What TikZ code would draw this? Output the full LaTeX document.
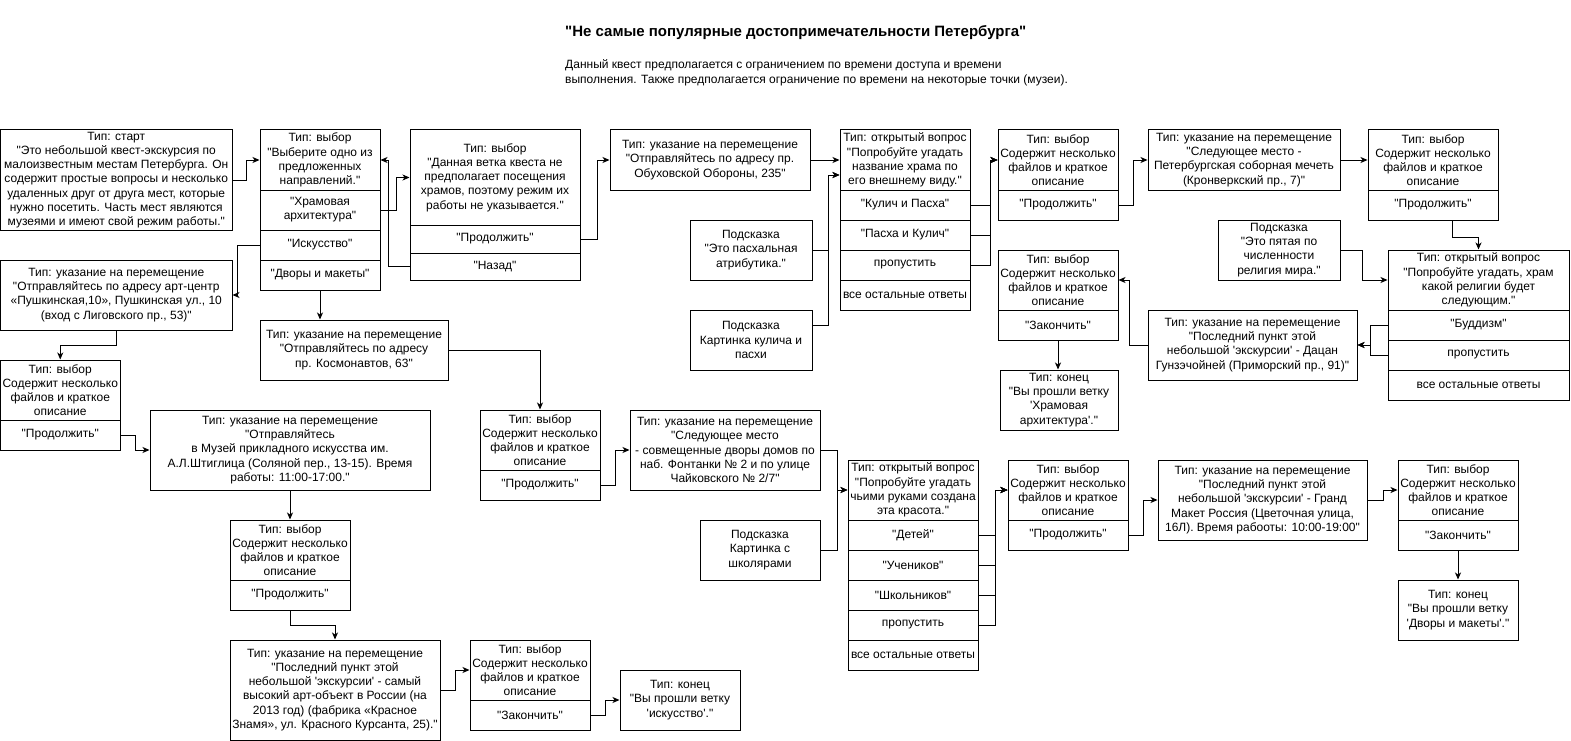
\documentclass[tikz,border=0pt]{standalone}
\usepackage{fontspec}
\setmainfont{Liberation Sans}[Ligatures=TeXOff]
\usetikzlibrary{arrows.meta,calc}
\newcommand{\apos}{\textquotesingle}
\tikzset{
 bx/.style={draw, line width=1pt, inner sep=0pt, align=center, font=\fontsize{12}{14.2}\selectfont},
 arr/.style={line width=1pt, -{Stealth[length=7pt,width=6pt,inset=2pt]}},
}
\newcommand{\mybox}[6]{\node[bx, minimum width={#4-#2}, minimum height={#5-#3}] (#1) at ({(#2+#4)/2},{(#3+#5)/2}) {#6};}
\newcommand{\hdr}{Тип: выбор\\Содержит несколько\\файлов и краткое\\описание}
\begin{document}
\begin{tikzpicture}[x=1pt,y=-1pt]
\useasboundingbox (0,0) rectangle (1571,741);
\node[anchor=west, inner sep=0pt, font=\fontsize{15}{18}\selectfont\bfseries] (title) at (565,33) {"Не самые популярные достопримечательности Петербурга"};
\node[anchor=north west, align=left, inner sep=0pt, font=\fontsize{12}{15}\selectfont] (desc) at (565,59) {Данный квест предполагается с ограничением по времени доступа и времени\\выполнения. Также предполагается ограничение по времени на некоторые точки (музеи).};

\mybox{start}{0.5}{130}{232}{230}{Тип: старт\\"Это небольшой квест-экскурсия по\\малоизвестным местам Петербурга. Он\\содержит простые вопросы и несколько\\удаленных друг от друга мест, которые\\нужно посетить. Часть мест являются\\музеями и имеют свой режим работы."}

\mybox{c1h}{260}{130}{380}{190}{Тип: выбор\\"Выберите одно из\\предложенных\\направлений."}
\mybox{c1a}{260}{190}{380}{230}{"Храмовая\\архитектура"}
\mybox{c1b}{260}{230}{380}{260}{"Искусство"}
\mybox{c1c}{260}{260}{380}{290}{"Дворы и макеты"}

\mybox{tH}{410}{130}{580}{225}{Тип: выбор\\"Данная ветка квеста не\\предполагает посещения\\храмов, поэтому режим их\\работы не указывается."}
\mybox{tA}{410}{225}{580}{253}{"Продолжить"}
\mybox{tB}{410}{253}{580}{280}{"Назад"}

\mybox{m1}{610}{130}{810}{190}{Тип: указание на перемещение\\"Отправляйтесь по адресу пр.\\Обуховской Обороны, 235"}
\mybox{h1}{690}{220}{812}{280}{Подсказка\\"Это пасхальная\\атрибутика."}
\mybox{h2}{690}{310}{812}{370}{Подсказка\\Картинка кулича и\\пасхи}

\mybox{q1h}{840}{130}{970}{190}{Тип: открытый вопрос\\"Попробуйте угадать\\название храма по\\его внешнему виду."}
\mybox{q1a}{840}{190}{970}{220}{"Кулич и Пасха"}
\mybox{q1b}{840}{220}{970}{250}{"Пасха и Кулич"}
\mybox{q1c}{840}{250}{970}{280}{пропустить}
\mybox{q1d}{840}{280}{970}{310}{все остальные ответы}

\mybox{c2h}{998}{130}{1118}{190}{\hdr}
\mybox{c2a}{998}{190}{1118}{220}{"Продолжить"}

\mybox{m2}{1148}{130}{1340}{190}{Тип: указание на перемещение\\"Следующее место -\\Петербургская соборная мечеть\\(Кронверкский пр., 7)"}

\mybox{c3h}{1368}{130}{1498}{190}{\hdr}
\mybox{c3a}{1368}{190}{1498}{220}{"Продолжить"}

\mybox{h3}{1218}{220}{1340}{280}{Подсказка\\"Это пятая по\\численности\\религия мира."}

\mybox{q2h}{1388}{250}{1569}{310}{Тип: открытый вопрос\\"Попробуйте угадать, храм\\какой религии будет\\следующим."}
\mybox{q2a}{1388}{310}{1569}{340}{"Буддизм"}
\mybox{q2b}{1388}{340}{1569}{370}{пропустить}
\mybox{q2c}{1388}{370}{1569}{400}{все остальные ответы}

\mybox{m3}{1148}{310}{1357}{380}{Тип: указание на перемещение\\"Последний пункт этой\\небольшой \apos экскурсии\apos{} - Дацан\\Гунзэчойней (Приморский пр., 91)"}

\mybox{c4h}{998}{250}{1118}{310}{\hdr}
\mybox{c4a}{998}{310}{1118}{340}{"Закончить"}
\mybox{e1}{1000}{370}{1118}{430}{Тип: конец\\"Вы прошли ветку\\\apos Храмовая\\архитектура\apos."}

\mybox{push}{0.5}{260}{232}{330}{Тип: указание на перемещение\\"Отправляйтесь по адресу арт-центр\\«Пушкинская,10», Пушкинская ул., 10\\(вход с Лиговского пр., 53)"}
\mybox{c5h}{0.5}{360}{120}{420}{\hdr}
\mybox{c5a}{0.5}{420}{120}{450}{"Продолжить"}

\mybox{kos}{260}{320}{448}{380}{Тип: указание на перемещение\\"Отправляйтесь по адресу\\пр. Космонавтов, 63"}

\mybox{sti}{150}{410}{430}{490}{Тип: указание на перемещение\\"Отправляйтесь\\в Музей прикладного искусства им.\\А.Л.Штиглица (Соляной пер., 13-15). Время\\работы: 11:00-17:00."}

\mybox{c6h}{230}{520}{350}{580}{\hdr}
\mybox{c6a}{230}{580}{350}{610}{"Продолжить"}

\mybox{la}{230}{640}{440}{740}{Тип: указание на перемещение\\"Последний пункт этой\\небольшой \apos экскурсии\apos{} - самый\\высокий арт-объект в России (на\\2013 год) (фабрика «Красное\\Знамя», ул. Красного Курсанта, 25)."}

\mybox{c7h}{470}{640}{590}{700}{\hdr}
\mybox{c7a}{470}{700}{590}{730}{"Закончить"}
\mybox{e2}{620}{670}{740}{730}{Тип: конец\\"Вы прошли ветку\\\apos искусство\apos."}

\mybox{c8h}{480}{410}{600}{470}{\hdr}
\mybox{c8a}{480}{470}{600}{500}{"Продолжить"}

\mybox{fon}{630}{410}{820}{490}{Тип: указание на перемещение\\"Следующее место\\- совмещенные дворы домов по\\наб. Фонтанки № 2 и по улице\\Чайковского № 2/7"}
\mybox{h4}{700}{520}{820}{580}{Подсказка\\Картинка с\\школярами}

\mybox{q3h}{848}{460}{978}{520}{Тип: открытый вопрос\\"Попробуйте угадать\\чьими руками создана\\эта красота."}
\mybox{q3a}{848}{520}{978}{550}{"Детей"}
\mybox{q3b}{848}{550}{978}{580}{"Учеников"}
\mybox{q3c}{848}{580}{978}{610}{"Школьников"}
\mybox{q3d}{848}{610}{978}{640}{пропустить}
\mybox{q3e}{848}{640}{978}{670}{все остальные ответы}

\mybox{c9h}{1008}{460}{1128}{520}{\hdr}
\mybox{c9a}{1008}{520}{1128}{550}{"Продолжить"}

\mybox{gm}{1158}{460}{1367}{540}{Тип: указание на перемещение\\"Последний пункт этой\\небольшой \apos экскурсии\apos{} - Гранд\\Макет Россия (Цветочная улица,\\16Л). Время рабооты: 10:00-19:00"}

\mybox{c10h}{1398}{460}{1518}{520}{\hdr}
\mybox{c10a}{1398}{520}{1518}{550}{"Закончить"}
\mybox{e3}{1398}{580}{1518}{640}{Тип: конец\\"Вы прошли ветку\\\apos Дворы и макеты\apos."}

% connectors
\draw[arr] (start.east) -- ++(14,0) |- (c1h.west);
\draw[arr] (c1a.east) -- ++(16,0) |- (tH.west);
\draw[arr] (tB.west) -- ++(-21,0) |- (c1h.east);
\draw[arr] (c1b.west) -- ++(-22,0) |- (push.east);
\draw[arr] (c1c.south) -- (kos.north -| c1c.south);
\draw[arr] (tA.east) -- ++(17,0) |- (m1.west);
\draw[arr] (m1.east) -- (q1h.west);
\coordinate (q1in) at ($(q1h.west)+(0,15)$);
\draw[arr] (h1.east) -- ++(16,0) |- (q1in);
\draw[arr] ($(h2.east)+(0,-15)$) -- ++(16,0) |- (q1in);
\foreach \r in {q1a,q1b,q1c} \draw[arr] (\r.east) -- ++(20,0) |- (c2h.west);
\draw[arr] (c2a.east) -- ++(15,0) |- (m2.west);
\draw[arr] (m2.east) -- (c3h.west);
\draw[arr] ($(c3a.south)+(19,0)$) -- ++(0,17) -| (q2h.north);
\draw[arr] (h3.east) -- ++(22,0) |- (q2h.west);
\draw[arr] (q2a.west) -- ++(-17,0) |- (m3.east);
\draw[arr] (q2b.west) -- ++(-17,0) |- (m3.east);
\draw[arr] (m3.west) -- ++(-18,0) |- (c4h.east);
\draw[arr] (c4a.south) -- (e1.north -| c4a.south);
\draw[arr] (push.south) -- ++(0,15) -| (c5h.north);
\draw[arr] (c5a.east) -- ++(15,0) |- (sti.west);
\draw[arr] (sti.south) -- (c6h.north);
\draw[arr] (c6a.south) -- ++(0,15) -| (la.north);
\draw[arr] (la.east) -- ++(15,0) |- (c7h.west);
\draw[arr] (c7a.east) -- ++(15,0) |- (e2.west);
\draw[arr] (kos.east) -| (c8h.north);
\draw[arr] (c8a.east) -- ++(15,0) |- (fon.west);
\draw[arr] (fon.east) -- ++(17,0) |- (q3h.west);
\draw[arr] (h4.east) -- ++(17,0) |- (q3h.west);
\foreach \r in {q3a,q3b,q3c,q3d} \draw[arr] (\r.east) -- ++(17,0) |- (c9h.west);
\draw[arr] (c9a.east) -- ++(15,0) |- (gm.west);
\draw[arr] (gm.east) -- ++(16,0) |- (c10h.west);
\draw[arr] (c10a.south) -- (e3.north);
\end{tikzpicture}
\end{document}
